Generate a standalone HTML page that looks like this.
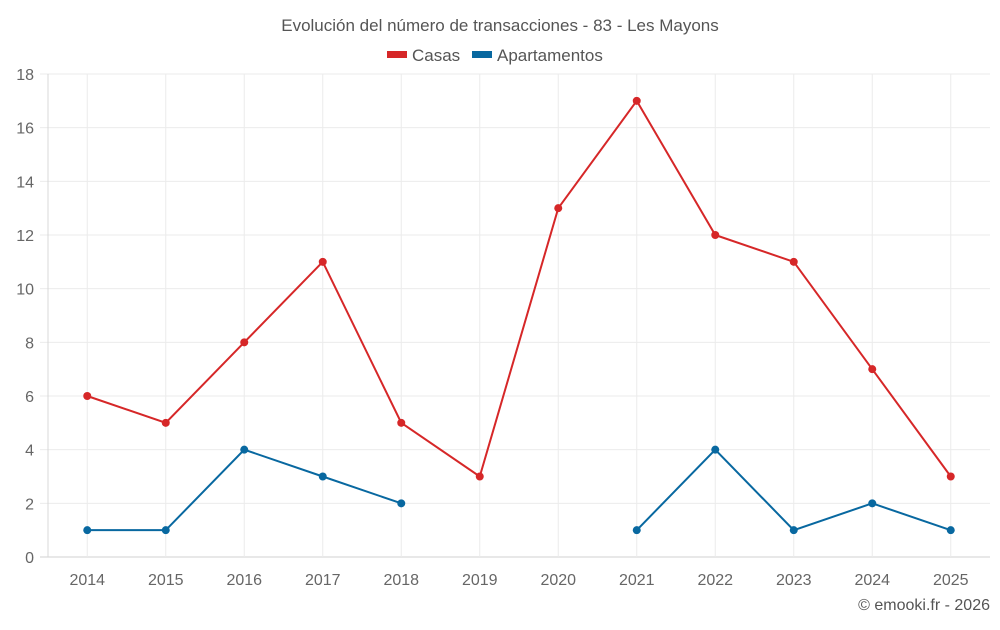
<!DOCTYPE html>
<html><head><meta charset="utf-8"><style>
body{margin:0;background:#fff;font-family:"Liberation Sans",sans-serif;}
svg text{font-family:"Liberation Sans",sans-serif;}
</style></head><body>
<svg id="chart" width="1000" height="625">
<text x="500" y="31" text-anchor="middle" font-size="17" fill="#555">Evolución del número de transacciones - 83 - Les Mayons</text>
<g>
<g><rect x="387" y="51" width="20" height="7" fill="#d62728"/><text x="412" y="61" font-size="17" fill="#555">Casas</text></g>
<g><rect x="472" y="51" width="20" height="7" fill="#0868a0"/><text x="497" y="61" font-size="17" fill="#555">Apartamentos</text></g>
</g>
<g id="grid"></g>
<g id="axes"></g>
<g id="series"></g>
<text x="990" y="610" text-anchor="end" font-size="16" fill="#555">© emooki.fr - 2026</text>
</svg>
<script>
const categories=["2014","2015","2016","2017","2018","2019","2020","2021","2022","2023","2024","2025"];
const casas=[6,5,8,11,5,3,13,17,12,11,7,3];
const apartamentos=[1,1,4,3,2,null,null,1,4,1,2,1];
const yTicks=[0,2,4,6,8,10,12,14,16,18];
const L=48,R=990,T=74,B=557,yMax=18;
const NS="http://www.w3.org/2000/svg";
const step=(R-L)/categories.length;
function x(i){return L+step*(i+0.5);}
function y(v){return B-(v/yMax)*(B-T);}
function mk(tag,attrs,parent){const e=document.createElementNS(NS,tag);for(const k in attrs)e.setAttribute(k,attrs[k]);parent.appendChild(e);return e;}
const grid=document.getElementById('grid'),axes=document.getElementById('axes'),ser=document.getElementById('series');
yTicks.forEach(v=>{
 const l=mk('line',{x1:L-8,x2:R,y1:y(v),y2:y(v),stroke:v===0?'#d0d0d0':'#ebebeb','stroke-width':1},grid);
 
 
 const t=mk('text',{x:34,y:y(v)+6,'text-anchor':'end','font-size':16,fill:'#666'},axes);
 t.textContent=v;
 
 
});
const ax=mk('line',{x1:L,x2:L,y1:T,y2:B,stroke:'#d8d8d8','stroke-width':1},grid);


categories.forEach((c,i)=>{
 const l=mk('line',{x1:x(i),x2:x(i),y1:T,y2:B,stroke:'#ebebeb','stroke-width':1},grid);
 
 
 const t=mk('text',{x:x(i),y:585,'text-anchor':'middle','font-size':16,fill:'#666'},axes);
 t.textContent=c;
 
 
});
function draw(data,color,name){
 let d='',pen=false;
 data.forEach((v,i)=>{if(v===null){pen=false;return;}d+=(pen?'L':'M')+x(i)+','+y(v);pen=true;});
 const p=mk('path',{d:d,fill:'none',stroke:color,'stroke-width':2},ser);
 
 
 data.forEach((v,i)=>{if(v===null)return;
  const c=mk('circle',{cx:x(i),cy:y(v),r:4,fill:color},ser);
  
  
 });
}
draw(casas,'#d62728','casas');
draw(apartamentos,'#0868a0','apartamentos');
</script>
</body></html>
